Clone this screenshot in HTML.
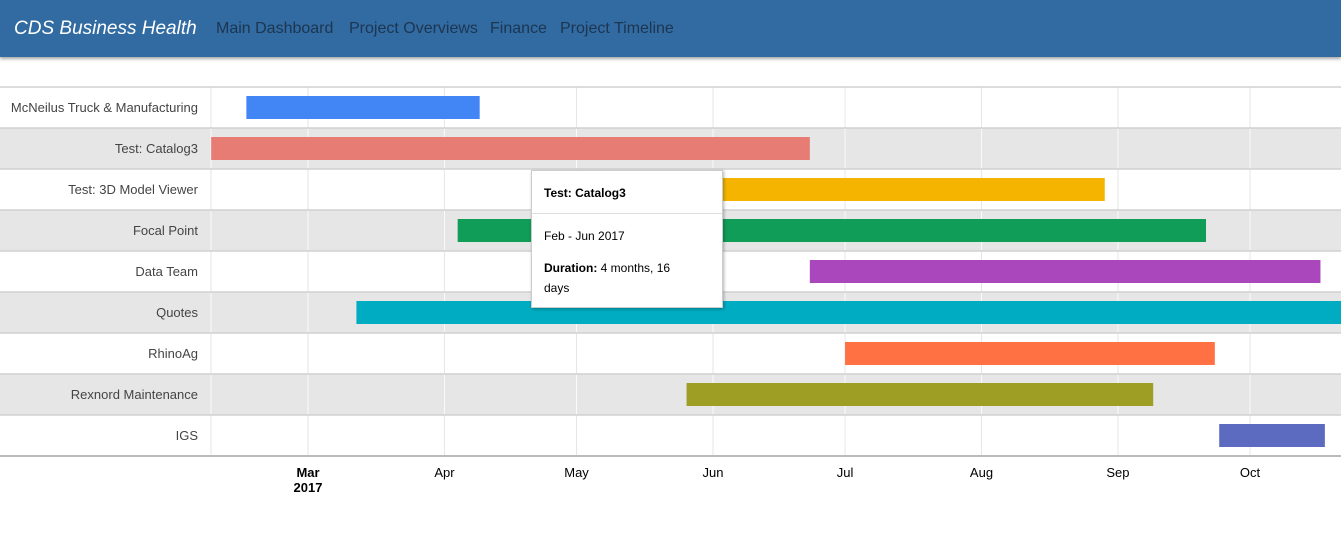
<!DOCTYPE html>
<html><head><meta charset="utf-8">
<style>
body{margin:0;width:1341px;height:538px;overflow:hidden;background:#fff;font-family:"Liberation Sans",sans-serif;position:relative}
#hdr{position:absolute;left:0;top:0;width:1341px;height:57px;background:#316ba2;box-shadow:0 2px 3px rgba(0,0,0,.35)}
#brand{position:absolute;left:14px;top:18px;font-size:19px;font-style:italic;color:#fff;font-family:"Liberation Sans",sans-serif}
.nav{position:absolute;top:20px;font-size:16px;color:#1d3550;font-family:"Liberation Sans",sans-serif}
#tip{position:absolute;left:531px;top:170px;width:190px;height:136px;background:#fff;border:1px solid #ccc;box-shadow:1px 1px 3px rgba(0,0,0,.3);font-size:12px;color:#000}
</style></head><body>
<div id="hdr">
<span id="brand">CDS Business Health</span>
<span class="nav" style="left:216px">Main Dashboard</span>
<span class="nav" style="left:349px">Project Overviews</span>
<span class="nav" style="left:490px">Finance</span>
<span class="nav" style="left:560px">Project Timeline</span>
</div>
<svg id="chart" width="1341" height="538" style="position:absolute;left:0;top:0"></svg>
<div id="tip">
<div style="padding:15px 12px 13px;font-weight:bold;border-bottom:1px solid #ddd">Test: Catalog3</div>
<div style="padding:15px 12px 0">Feb - Jun 2017</div>
<div style="padding:15px 12px 0;line-height:20px;width:150px"><b>Duration:</b> 4 months, 16 days</div>
</div>
<script>
const projects=["McNeilus Truck & Manufacturing","Test: Catalog3","Test: 3D Model Viewer","Focal Point","Data Team","Quotes","RhinoAg","Rexnord Maintenance","IGS"];
const startDay=[45,37,140,93,173,70,181,145,266];
const endDay=[98,173,240,263,289,300,265,251,290];
const colors=["#4285f4","#e67c73","#f4b400","#0f9d58","#ab47bc","#00acc1","#ff7043","#9e9d24","#5c6bc0"];
const monthLabels=["Mar","Apr","May","Jun","Jul","Aug","Sep","Oct"];
const monthDays=[59,90,120,151,181,212,243,273];
const NS="http://www.w3.org/2000/svg";
const svg=document.getElementById('chart');
const x0=211,x1=1341,top0=87,rowH=41;
const xs=d=>308+(d-59)*4.402;
function mk(t,a){const e=document.createElementNS(NS,t);for(const k in a)e.setAttribute(k,a[k]);svg.appendChild(e);return e;}
projects.forEach((p,i)=>{
 const y=top0+i*rowH;
 const r=mk('rect',{x:0,y:y,width:1341,height:rowH,fill:i%2?'#e6e6e6':'#fff'});
 
 
 const gc=i%2?'#fafafa':'#e6e6e6';
 [x0].concat(monthDays.map(xs)).forEach(gx=>{
  const l=mk('line',{x1:gx,x2:gx,y1:y,y2:y+rowH,stroke:gc,'stroke-width':1});
  
  
 });
});
for(let i=0;i<=projects.length;i++){
 const y=top0+i*rowH;
 const l=mk('line',{x1:0,x2:1341,y1:y,y2:y,stroke:i==projects.length?'#bbb':'#d0d0d0','stroke-width':i==projects.length?2:1.5});
 
 
}
projects.forEach((p,i)=>{
 const y=top0+i*rowH;
 const t=mk('text',{x:198,y:y+25,'text-anchor':'end','font-size':13,fill:'#444','font-family':'Liberation Sans, sans-serif'});
 t.textContent=p;
 
 
 const a=Math.max(xs(startDay[i]),x0),b=Math.min(xs(endDay[i]),x1);
 const r=mk('rect',{x:a,y:y+9,width:b-a,height:23,fill:colors[i]});
 
 
});
monthLabels.forEach((m,i)=>{
 const t=mk('text',{x:xs(monthDays[i]),y:477,'text-anchor':'middle','font-size':13,fill:'#000','font-family':'Liberation Sans, sans-serif','font-weight':i==0?'bold':'normal'});
 t.textContent=m;
 
 
});
const yr=mk('text',{x:xs(59),y:492,'text-anchor':'middle','font-size':13,'font-weight':'bold',fill:'#000','font-family':'Liberation Sans, sans-serif'});
yr.textContent='2017';


</script>
</body></html>
